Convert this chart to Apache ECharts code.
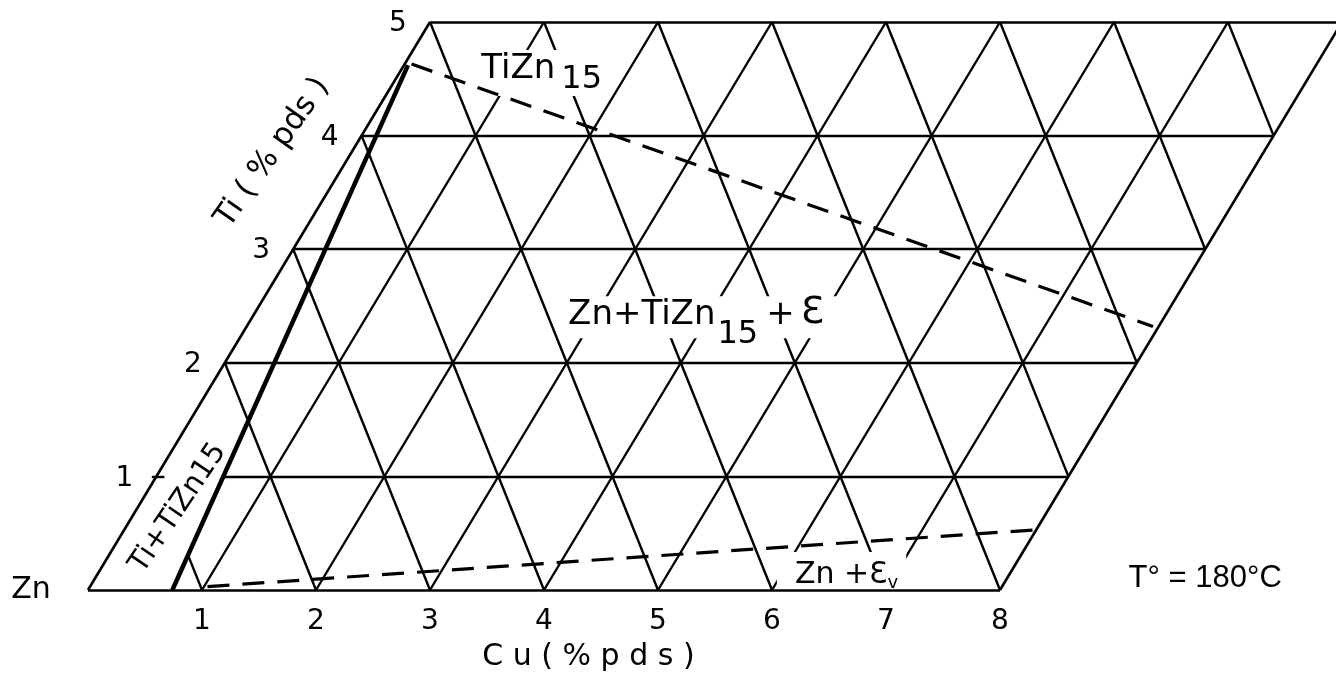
<!DOCTYPE html>
<html>
<head>
<meta charset="utf-8">
<script src="https://cdn.jsdelivr.net/npm/echarts@6/dist/echarts.min.js"></script>
<style>
  html, body { margin: 0; padding: 0; background: #fff; }
  #main { width: 1336px; height: 682px; }
</style>
</head>
<body>
<div id="main"></div>
<script>
// data: Cu / Ti in % pds
var cuTicks = [1, 2, 3, 4, 5, 6, 7, 8];
var tiTicks = [1, 2, 3, 4, 5];
var cuMax = 8, tiMax = 5;
// phase boundaries, as [Cu, Ti]
var tiZnBoundary = [[0.74, 0], [0.035, 4.62]];      // thick line, Ti + TiZn15
var upperDashed = [[0.06, 4.63], [7.95, 2.32]];
var lowerDashed = [[1.03, 0.03], [8.0, 0.53]];

var K = 0.6;            // skew of the Ti axis
var INK = '#000';
var FONT = 'DejaVu Sans';

// skewed (Cu, Ti) -> cartesian
function P(cu, ti) { return [cu + K * ti, ti]; }
function seg(a, b) { return { coords: [P(a[0], a[1]), P(b[0], b[1])] }; }

// Cu of the thick boundary at a given Ti
function boundaryCu(ti) {
  var a = tiZnBoundary[0], b = tiZnBoundary[1];
  return a[0] + (b[0] - a[0]) * (ti - a[1]) / (b[1] - a[1]);
}

// triangular grid
var gridSegs = [];
tiTicks.forEach(function (t) {
  if (t >= tiMax) return;
  var start = t === 1 ? boundaryCu(1) : 0;   // erased under the Ti+TiZn15 label
  gridSegs.push(seg([start, t], [cuMax, t]));
});
cuTicks.forEach(function (c) {
  if (c >= cuMax) return;
  gridSegs.push(seg([c, 0], [c, tiMax]));
});
for (var s = 1; s < cuMax + tiMax; s++) {
  var tLo = Math.max(0, s - cuMax), tHi = Math.min(tiMax, s);
  if (s === 1) {
    // clip at thick line: cu + ti = 1
    var a = tiZnBoundary[0], b = tiZnBoundary[1];
    var slope = (b[0] - a[0]) / (b[1] - a[1]);
    tHi = (1 - a[0]) / (1 + slope);
  }
  gridSegs.push(seg([s - tLo, tLo], [s - tHi, tHi]));
}
// small tick on the left edge at Ti = 1
gridSegs.push(seg([-0.04, 1], [0.07, 1]));

var outline = [
  seg([0, 0], [cuMax, 0]), seg([cuMax, 0], [cuMax, tiMax]),
  seg([cuMax, tiMax], [0, tiMax]), seg([0, tiMax], [0, 0])
];

function txt(size, extra) {
  var o = { fontFamily: FONT, fontSize: size, color: INK };
  for (var k in extra) o[k] = extra[k];
  return o;
}

var labels = [];
tiTicks.forEach(function (t) {
  labels.push({ value: P(0, t), label: { formatter: String(t), offset: [-32, 2], fontSize: 28 } });
});
labels.push({ value: P(-0.5, 0), label: { formatter: 'Zn', fontSize: 30 } });
labels.push({ value: [4.39, -0.59], label: { formatter: 'C u ( % p d s )', fontSize: 30 } });
labels.push({ value: P(-0.69, 3.85), label: { formatter: 'Ti ( % pds )', fontSize: 31, rotate: 55 } });
labels.push({ value: P(0.36, 0.72), label: { formatter: 'Ti+TiZn15', fontSize: 29, rotate: 56 } });
labels.push({ value: [9.8, 0.1], label: { formatter: 'T° = 180°C', fontFamily: 'Liberation Sans', fontSize: 31 } });
labels.push({ value: P(1.25, 4.55), label: {
  formatter: '{a|TiZn}{b|15}', backgroundColor: '#fff', padding: [2, 6, 4, 6],
  rich: { a: txt(34, { verticalAlign: 'top', lineHeight: 40 }), b: txt(32, { verticalAlign: 'top', lineHeight: 40, padding: [12, 0, 0, 6] }) }
} });
labels.push({ value: P(3.92, 2.40), label: {
  formatter: '{a|Zn+TiZn}{b|15}{d|+}{c|Ɛ}', backgroundColor: '#fff', padding: [2, 14, 0, 8],
  rich: {
    a: txt(34, { verticalAlign: 'top', lineHeight: 40 }),
    b: txt(32, { verticalAlign: 'top', lineHeight: 40, padding: [20, 0, 0, 2] }),
    d: txt(34, { verticalAlign: 'top', lineHeight: 40, padding: [0, 6, 0, 8] }),
    c: txt(38, { verticalAlign: 'top', lineHeight: 40, padding: [-4, 0, 0, 0] })
  }
} });
labels.push({ value: P(6.52, 0.15), label: {
  formatter: '{a|Zn +Ɛ}{b|v}', backgroundColor: '#fff', padding: [8, 8, 2, 18],
  rich: { a: txt(30, { verticalAlign: 'top', lineHeight: 32 }), b: txt(18, { verticalAlign: 'top', lineHeight: 32, padding: [14, 0, 0, 0] }) }
} });

var myChart = echarts.init(document.getElementById('main'));

var option = {
  animation: false,
  grid: { left: 88, top: 22, width: 912, height: 568 },
  xAxis: {
    type: 'value', min: 0, max: cuMax, interval: 1,
    axisLine: { show: false }, axisTick: { show: false }, splitLine: { show: false },
    axisLabel: {
      margin: 18, fontFamily: FONT, fontSize: 28, color: INK,
      formatter: function (v) { return cuTicks.indexOf(v) >= 0 ? String(v) : ''; }
    }
  },
  yAxis: { type: 'value', min: 0, max: tiMax, show: false },
  series: [{
    type: 'lines', coordinateSystem: 'cartesian2d', clip: false, silent: true, z: 1,
    lineStyle: { color: INK, width: 2.4, opacity: 1 },
    data: gridSegs
  }, {
    type: 'scatter', clip: false, silent: true, z: 2, symbolSize: 0,
    itemStyle: { opacity: 1 },
    label: { show: true, position: 'inside', fontFamily: FONT, color: INK, opacity: 1 },
    data: labels
  }, {
    type: 'lines', coordinateSystem: 'cartesian2d', clip: false, silent: true, z: 3,
    lineStyle: { color: INK, width: 2.6, opacity: 1 },
    data: outline
  }, {
    type: 'lines', coordinateSystem: 'cartesian2d', clip: false, silent: true, z: 3,
    lineStyle: { color: INK, width: 4.5, opacity: 1 },
    data: [seg(tiZnBoundary[0], tiZnBoundary[1])]
  }, {
    type: 'lines', coordinateSystem: 'cartesian2d', clip: false, silent: true, z: 3,
    lineStyle: { color: INK, width: 3.2, opacity: 1, type: [22, 13] },
    data: [seg(upperDashed[0], upperDashed[1]), seg(lowerDashed[0], lowerDashed[1])]
  }]
};

myChart.setOption(option);
</script>
</body>
</html>
